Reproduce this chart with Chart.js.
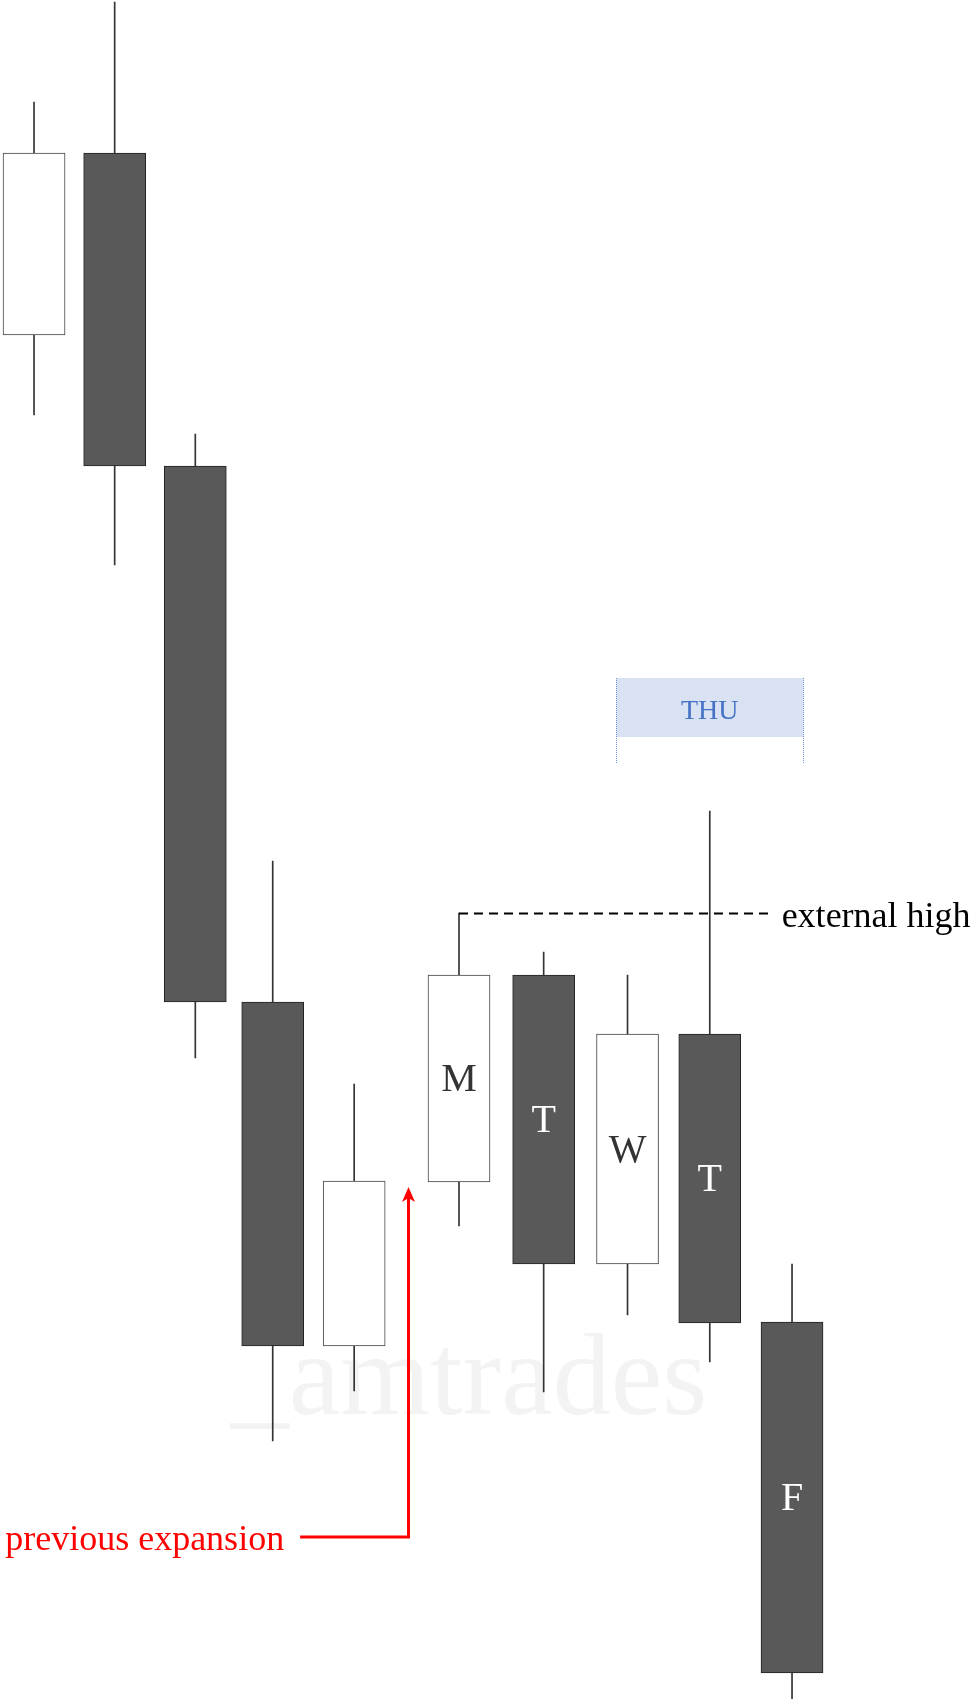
<!DOCTYPE html>
<html>
<head>
<meta charset="utf-8">
<script src="https://cdn.jsdelivr.net/npm/chart.js@4/dist/chart.umd.min.js"></script>
<style>
  html, body { margin: 0; padding: 0; background: #fff; }
  #wrap { width: 975px; height: 1699px; }
</style>
</head>
<body>
<div id="wrap"><canvas id="chart" width="975" height="1699"></canvas></div>
<script>
// day slots (slight gap before the labelled week)
const slots = [1, 2, 3, 3.96, 4.97, 6.27, 7.32, 8.36, 9.38, 10.4];
const opens = [136.4, 154.6, 123.3, 69.7, 35.3, 51.7, 72.4, 43.5, 66.5, 37.7];
const highs = [159.7, 169.7, 126.5, 83.8, 61.5, 78.6, 74.7, 72.4, 88.8, 43.5];
const lows = [128.4, 113.4, 64.1, 25.8, 30.8, 47.3, 30.7, 38.4, 33.7, -3.0];
const closes = [154.6, 123.3, 69.7, 35.3, 51.8, 72.4, 43.5, 66.5, 37.6, 2.6];
const dayLabels = ['', '', '', '', '', 'M', 'T', 'W', 'T', 'F'];

// annotation anchors (data units)
const externalHigh = { from: 5, toX: 10.11, text: 'external high' };
const thuBox = { candle: 8, halfWidth: 1.16, top: 102.1, bottom: 96.2, tickEnd: 93.6, text: 'THU' };
const expansion = { x: 5.64, tipY: 51.2, baseY: 16.2, lineStartX: 4.3, text: 'previous expansion' };

const isBull = i => closes[i] >= opens[i];

const bodies = slots.map((x, i) => ({ x, y: [opens[i], closes[i]] }));
const wicks = slots.map((x, i) => ({ x, y: [lows[i], highs[i]] }));

const annotations = {
  id: 'annotations',
  beforeDatasetsDraw(chart) {
    const { ctx, chartArea: a } = chart;
    // watermark
    ctx.save();
    ctx.fillStyle = '#f3f3f3';
    ctx.font = '116px "Liberation Serif"';
    ctx.textAlign = 'center';
    ctx.textBaseline = 'alphabetic';
    ctx.fillText('_amtrades', a.left + a.width * 0.481, a.top + a.height * 0.832);
    ctx.restore();
  },
  afterDatasetsDraw(chart) {
    const { ctx } = chart;
    const xs = chart.scales.x, ys = chart.scales.y;

    // candle day letters
    ctx.save();
    ctx.font = '40px "Liberation Serif"';
    ctx.textAlign = 'center';
    ctx.textBaseline = 'middle';
    dayLabels.forEach((t, i) => {
      if (!t) return;
      ctx.fillStyle = isBull(i) ? '#333333' : '#ffffff';
      const mid = (ys.getPixelForValue(opens[i]) + ys.getPixelForValue(closes[i])) / 2;
      ctx.fillText(t, xs.getPixelForValue(slots[i]), mid + 2);
    });
    ctx.restore();

    // external high dashed line
    const hy = Math.round(ys.getPixelForValue(highs[externalHigh.from])) + 0.5;
    ctx.save();
    ctx.strokeStyle = '#000';
    ctx.lineWidth = 2;
    ctx.setLineDash([9, 6]);
    ctx.beginPath();
    ctx.moveTo(xs.getPixelForValue(slots[externalHigh.from]), hy);
    ctx.lineTo(xs.getPixelForValue(externalHigh.toX), hy);
    ctx.stroke();
    ctx.setLineDash([]);
    ctx.fillStyle = '#000';
    ctx.font = '36px "Liberation Serif"';
    ctx.textBaseline = 'alphabetic';
    ctx.fillText(externalHigh.text, xs.getPixelForValue(externalHigh.toX) + 13, hy + 13);
    ctx.restore();

    // THU box
    const cx = slots[thuBox.candle];
    const bl = xs.getPixelForValue(cx - thuBox.halfWidth);
    const br = xs.getPixelForValue(cx + thuBox.halfWidth);
    const bt = ys.getPixelForValue(thuBox.top);
    const bb = ys.getPixelForValue(thuBox.bottom);
    const be = ys.getPixelForValue(thuBox.tickEnd);
    ctx.save();
    ctx.fillStyle = '#d9e2f3';
    ctx.fillRect(bl, bt, br - bl, bb - bt);
    ctx.strokeStyle = '#6f8fd6';
    ctx.lineWidth = 1;
    ctx.setLineDash([1, 1]);
    [bl, br].forEach(px => {
      ctx.beginPath();
      ctx.moveTo(Math.round(px) + 0.5, bt);
      ctx.lineTo(Math.round(px) + 0.5, be);
      ctx.stroke();
    });
    ctx.setLineDash([]);
    ctx.fillStyle = '#4472c4';
    ctx.font = '28px "Liberation Serif"';
    ctx.textAlign = 'center';
    ctx.textBaseline = 'middle';
    ctx.fillText(thuBox.text, (bl + br) / 2, (bt + bb) / 2 + 4);
    ctx.restore();

    // previous expansion arrow
    const ax = Math.round(xs.getPixelForValue(expansion.x)) + 0.5;
    const tip = ys.getPixelForValue(expansion.tipY);
    const base = ys.getPixelForValue(expansion.baseY);
    const startX = xs.getPixelForValue(expansion.lineStartX);
    ctx.save();
    ctx.strokeStyle = '#ff0000';
    ctx.fillStyle = '#ff0000';
    ctx.lineWidth = 3;
    ctx.lineJoin = 'miter';
    ctx.beginPath();
    ctx.moveTo(startX, base);
    ctx.lineTo(ax, base);
    ctx.lineTo(ax, tip + 10);
    ctx.stroke();
    ctx.beginPath();
    ctx.moveTo(ax, tip);
    ctx.lineTo(ax + 6.5, tip + 15);
    ctx.lineTo(ax, tip + 11);
    ctx.lineTo(ax - 6.5, tip + 15);
    ctx.closePath();
    ctx.fill();
    ctx.font = '36px "Liberation Serif"';
    ctx.textAlign = 'right';
    ctx.textBaseline = 'alphabetic';
    ctx.fillText(expansion.text, startX - 16, base + 13);
    ctx.restore();
  }
};

new Chart(document.getElementById('chart').getContext('2d'), {
  type: 'bar',
  data: {
    datasets: [
      {
        label: 'body',
        data: bodies,
        grouped: false,
        barThickness: 62,
        borderSkipped: false,
        borderWidth: 1,
        backgroundColor: slots.map((_, i) => isBull(i) ? '#ffffff' : '#595959'),
        borderColor: slots.map((_, i) => isBull(i) ? '#444444' : '#222222')
      },
      {
        label: 'wick',
        data: wicks,
        grouped: false,
        barThickness: 1,
        borderWidth: 0,
        backgroundColor: '#333333'
      }
    ]
  },
  options: {
    responsive: false,
    animation: false,
    layout: { padding: 0 },
    plugins: { legend: { display: false }, tooltip: { enabled: false } },
    scales: {
      x: { type: 'linear', min: 0.578, max: 12.669, offset: false, display: false },
      y: { min: 0, max: 169.9, display: false }
    }
  },
  plugins: [annotations]
});
</script>
</body>
</html>
